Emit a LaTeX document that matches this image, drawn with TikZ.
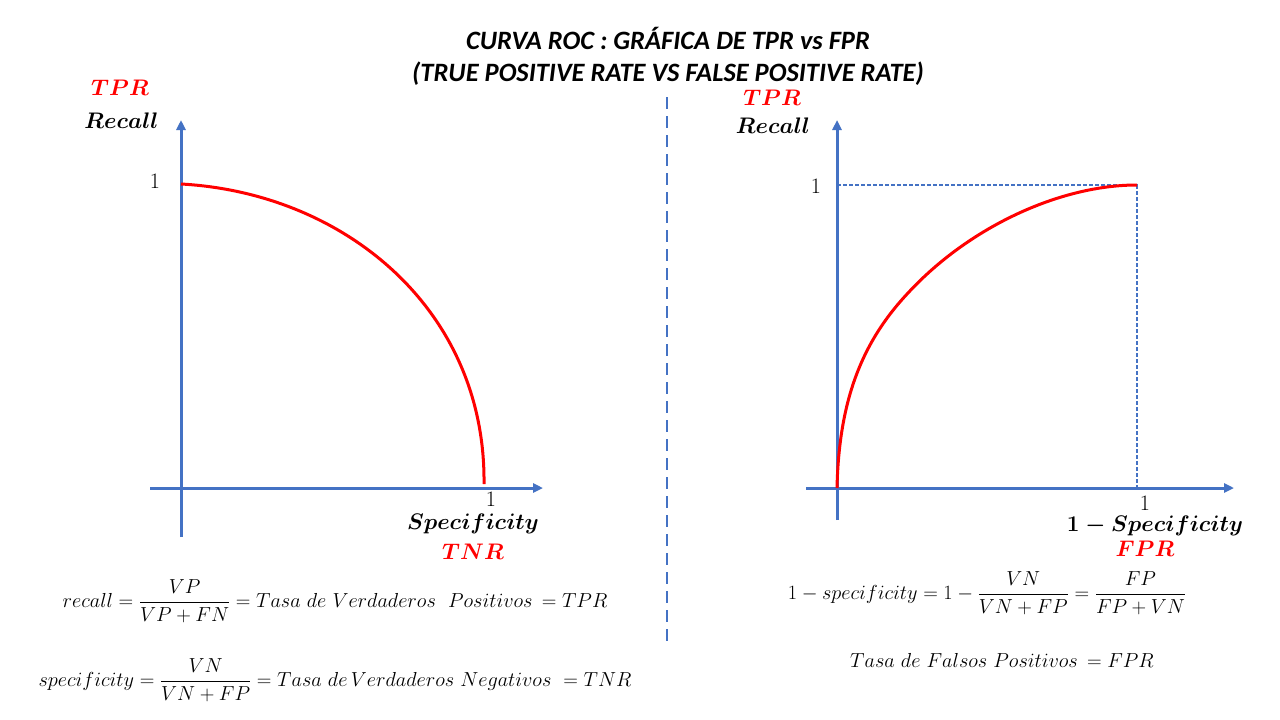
\RequirePackage{fix-cm}
\documentclass[tikz,border=0pt]{standalone}
\usepackage{amsmath}
\usepackage{fontspec}
\newfontfamily\titlefont{Carlito}
\usetikzlibrary{arrows.meta}
\definecolor{axisblue}{HTML}{4472C4}
\definecolor{curvered}{HTML}{FF0000}
\tikzset{
  axis/.style={draw=axisblue, line width=3pt, -{Triangle[length=10pt,width=9pt]}},
  roc/.style={draw=curvered, line width=3pt},
  guide/.style={draw=axisblue, line width=1.1pt, dash pattern=on 4pt off 2pt},
  sep/.style={draw=axisblue, line width=2.6pt, dash pattern=on 12pt off 7pt},
  ttl/.style={font=\titlefont\fontsize{26.5}{32}\selectfont\bfseries\itshape, align=center, inner sep=0pt},
  lab/.style={font=\fontsize{22.5}{26}\selectfont\boldmath, inner sep=0pt},
  redlab/.style={lab, text=curvered},
  tick/.style={font=\fontsize{22}{24}\selectfont, inner sep=0pt},
  frm/.style={font=\fontsize{20.3}{24}\selectfont, inner sep=0pt},
}
\begin{document}
\begin{tikzpicture}[x=1pt, y=-1pt]
\useasboundingbox (0,0) rectangle (1280,720);
\fill[white] (0,0) rectangle (1280,720);

% title
\node[ttl] (title) at (668,56) {CURVA ROC : GRÁFICA DE TPR vs FPR\\(TRUE POSITIVE RATE VS FALSE POSITIVE RATE)};

% separator
\coordinate (septop) at (667,97);
\coordinate (sepbot) at (667,645);
\draw[sep] (septop) -- (sepbot);

% ---------- left chart ----------
\coordinate (ly0) at (181,537);
\coordinate (ly1) at (181,120);
\coordinate (lx0) at (150,488);
\coordinate (lx1) at (543,488);
\draw[axis] (ly0) -- (ly1);
\draw[axis] (lx0) -- (lx1);
\coordinate (lcs) at (181,184);
\coordinate (lce) at (484,484);
\draw[roc] (lcs) .. controls (345,193) and (486,310) .. (lce);

\node[redlab] (ltpr) at (120,88) {$TPR$};
\node[lab] (lrec) at (121.5,121) {$Recall$};
\node[tick] (ly1t) at (155,181) {1};
\node[tick] (lx1t) at (491,499) {1};
\node[lab] (lspec) at (473,524) {$Specificity$};
\node[redlab] (ltnr) at (473,552) {$TNR$};

\node[frm] (frecall) at (335,601) {$recall=\dfrac{VP}{VP+FN}=Tasa\ de\ Verdaderos\ \ Positivos\,=TPR$};
\node[frm] (fspec) at (335,680) {$specificity=\dfrac{VN}{VN+FP}=Tasa\ de\,Verdaderos\ Negativos\ =TNR$};

% ---------- right chart ----------
\coordinate (ry0) at (837,520);
\coordinate (ry1) at (837,120);
\coordinate (rx0) at (806,488);
\coordinate (rx1) at (1234,488);
\coordinate (rone) at (1137,185);
\coordinate (ryone) at (837,185);
\coordinate (rxone) at (1137,488);
\draw[guide] (ryone) -- (rone) -- (rxone);
\draw[axis] (ry0) -- (ry1);
\draw[axis] (rx0) -- (rx1);
\coordinate (rcs) at (837,488);
\coordinate (rmid) at (908,293);
\draw[roc] (rcs) .. controls (839,400) and (862,342) .. (rmid)
           .. controls (969,227) and (1060,185) .. (rone);

\node[redlab] (rtpr) at (772,98) {$TPR$};
\node[lab] (rrec) at (773,126) {$Recall$};
\node[tick] (ry1t) at (816,186) {1};
\node[tick] (rx1t) at (1145,503) {1};
\node[lab] (rspec) at (1155,526) {$1-Specificity$};
\node[redlab] (rfpr) at (1145,549) {$FPR$};

\node[frm] (ffpr) at (987,593) {$1-specificity=1-\dfrac{VN}{VN+FP}=\dfrac{FP}{FP+VN}$};
\node[frm] (ftasa) at (1002,660) {$Tasa\ de\ Falsos\ Positivos\,=FPR$};
\end{tikzpicture}
\end{document}
